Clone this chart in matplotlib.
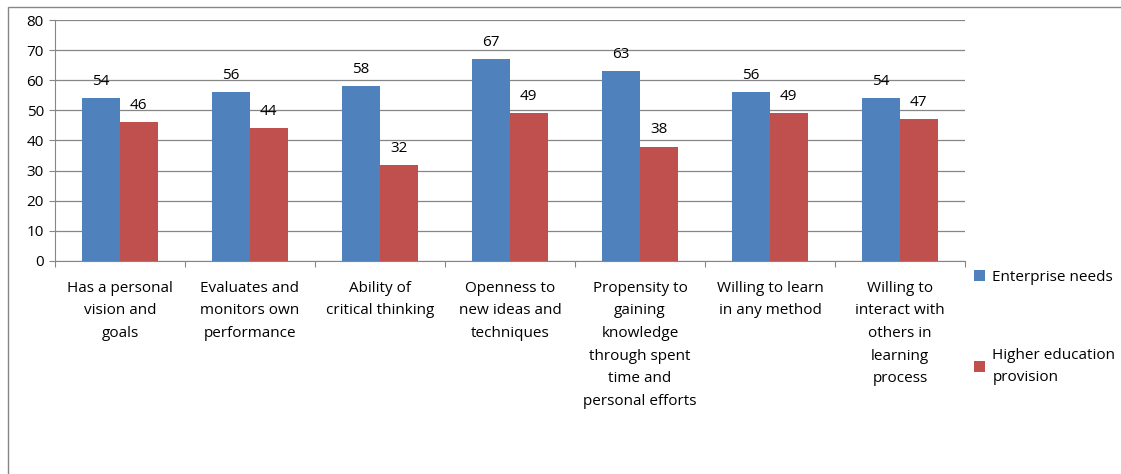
import numpy as np
import matplotlib.pyplot as plt
from matplotlib.patches import Rectangle

# data
categories = [
    "Has a personal\nvision and\ngoals",
    "Evaluates and\nmonitors own\nperformance",
    "Ability of\ncritical thinking",
    "Openness to\nnew ideas and\ntechniques",
    "Propensity to\ngaining\nknowledge\nthrough spent\ntime and\npersonal efforts",
    "Willing to learn\nin any method",
    "Willing to\ninteract with\nothers in\nlearning\nprocess",
]
enterprise = [54, 56, 58, 67, 63, 56, 54]
higher_edu = [46, 44, 32, 49, 38, 49, 47]
series_names = ["Enterprise needs", "Higher education\nprovision"]

plt.rcParams['font.family'] = ['Open Sans', 'DejaVu Sans']

fig = plt.figure(figsize=(11.21, 4.74), dpi=100)
ax = fig.add_axes([55 / 1121, 1 - 261 / 474, 910 / 1121, 241 / 474])

# outer chart frame
fig.patches.append(Rectangle((8 / 1121, -0.1), 1.2, 1 - 7 / 474 + 0.1,
                             transform=fig.transFigure, fill=False,
                             edgecolor='#868686', linewidth=1.0))

x = np.arange(len(categories))
w = 0.29
b1 = ax.bar(x - w / 2, enterprise, w, color='#4F81BD', label=series_names[0], zorder=3)
b2 = ax.bar(x + w / 2, higher_edu, w, color='#C0504D', label=series_names[1], zorder=3)

for rect, v in zip(b1, enterprise):
    ax.annotate(str(v), (rect.get_x() + rect.get_width() / 2, v), xytext=(0, 6.5),
                textcoords='offset points', ha='center', va='bottom', fontsize=11)
for rect, v in zip(b2, higher_edu):
    ax.annotate(str(v), (rect.get_x() + rect.get_width() / 2, v), xytext=(0, 6.5),
                textcoords='offset points', ha='center', va='bottom', fontsize=11)

ax.set_xlim(-0.5, len(categories) - 0.5)
ax.set_ylim(0, 80)
ax.set_yticks(range(0, 81, 10))
ax.grid(axis='y', color='#868686', linewidth=0.9, zorder=0)
ax.tick_params(axis='y', length=4, color='#868686', labelsize=11, pad=4)

ax.set_xticks(np.arange(-0.5, len(categories), 1))
ax.set_xticklabels([])
ax.tick_params(axis='x', length=4, color='#868686')
for i, c in enumerate(categories):
    ax.text(i, -6.5, c, ha='center', va='top', fontsize=11, linespacing=1.7)

for s in ['top', 'right']:
    ax.spines[s].set_visible(False)
for s in ['left', 'bottom']:
    ax.spines[s].set_color('#868686')

leg = fig.legend(handles=[b1, b2], loc='upper left', bbox_to_anchor=(968 / 1121, 1 - 264 / 474),
                 frameon=False, fontsize=11, handlelength=0.7, handleheight=0.7,
                 handletextpad=0.5, labelspacing=4.1, borderaxespad=0)
for t in leg.get_texts():
    t.set_linespacing(1.7)

fig.savefig('out.png', dpi=100)
